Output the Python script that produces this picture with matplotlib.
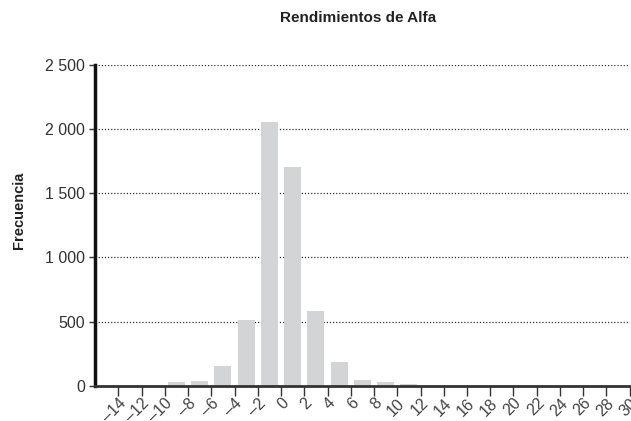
import matplotlib.pyplot as plt
from matplotlib import font_manager
from matplotlib.ticker import FuncFormatter

# histogram bins (centers) and counts
centers = [-9, -7, -5, -3, -1, 1, 3, 5, 7, 9, 11]
counts = [30, 37, 155, 516, 2058, 1707, 586, 186, 45, 30, 12]

xticks_vals = list(range(-14, 31, 2))
yticks_vals = [0, 500, 1000, 1500, 2000, 2500]

names = {f.name for f in font_manager.fontManager.ttflist}
fam = 'Liberation Sans Narrow' if 'Liberation Sans Narrow' in names else 'Liberation Sans'
plt.rcParams['font.family'] = [fam, 'DejaVu Sans']

fig = plt.figure(figsize=(6.31, 4.21), dpi=100)
ax = fig.add_axes([0.1506, 0.0836, 0.8474, 0.762])

ax.bar(centers, counts, width=1.45, color='#d3d4d6', zorder=2)

ax.set_xlim(-16, 30)
ax.set_ylim(0, 2500)

ax.set_yticks(yticks_vals)
ax.yaxis.set_major_formatter(FuncFormatter(lambda v, p: f'{int(v):,}'.replace(',', ' ')))
ax.set_xticks(xticks_vals)
ax.set_xticklabels([str(v).replace('-', '\u2013') for v in xticks_vals],
                   rotation=45, ha='right', rotation_mode='anchor')

for v in yticks_vals[1:]:
    ax.axhline(v, color='#333333', linestyle=(0, (1, 1.5)), linewidth=0.9, zorder=1)

for s in ['top', 'right']:
    ax.spines[s].set_visible(False)
ax.spines['left'].set_linewidth(2.5)
ax.spines['left'].set_color('#111111')
ax.spines['bottom'].set_linewidth(2.0)
ax.spines['bottom'].set_color('#333333')
ax.spines['left'].set_zorder(3)
ax.spines['bottom'].set_zorder(3)

ax.tick_params(axis='y', length=4, width=1, color='#333333', labelsize=11.5,
               labelcolor='#333333', pad=3)
ax.tick_params(axis='x', length=7, width=1, color='#333333', labelsize=11.5,
               labelcolor='#444444', pad=0)

fig.text(19.5 / 631, 1 - 210 / 421, 'Frecuencia', rotation=90, fontsize=10.5,
         fontweight='bold', color='#222222', ha='center', va='center')
fig.text(358 / 631, 1 - 18.5 / 421, 'Rendimientos de Alfa', fontsize=11,
         fontweight='bold', color='#222222', ha='center', va='center')

plt.savefig('out.png', dpi=100)
